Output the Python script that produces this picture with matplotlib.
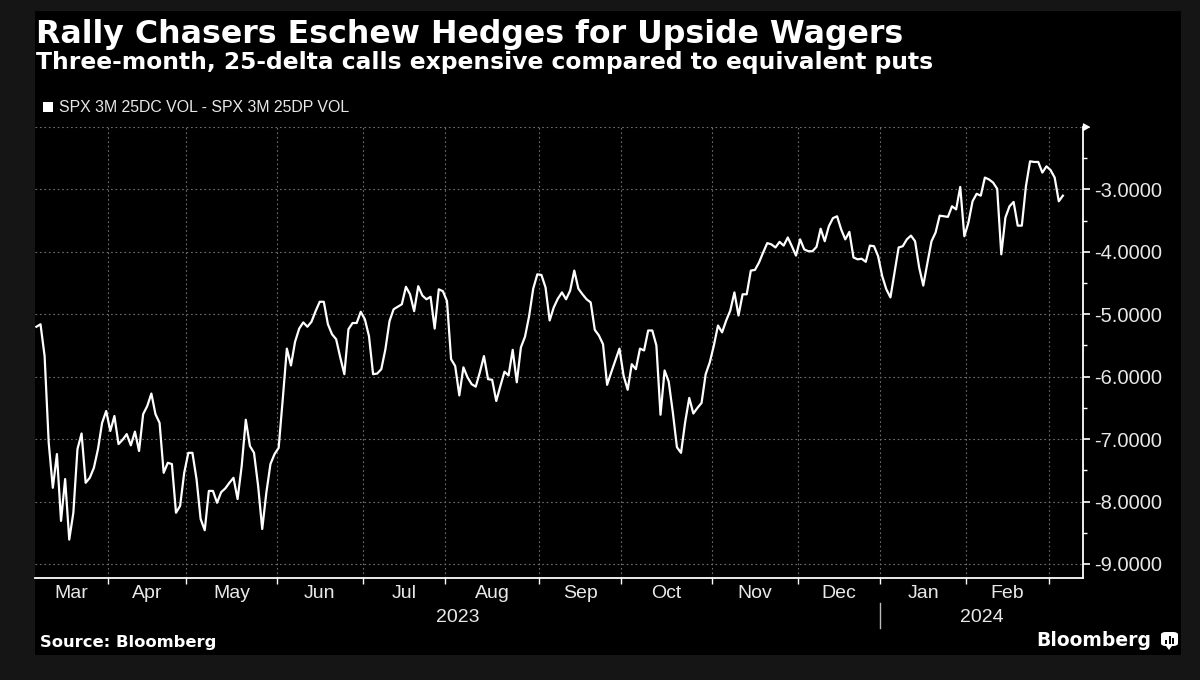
import matplotlib
matplotlib.use("Agg")
import matplotlib.pyplot as plt
from matplotlib.patches import Rectangle, FancyBboxPatch, Polygon
import matplotlib.transforms as mtransforms
import numpy as np
import pandas as pd

# ---------------- data ----------------
title = "Rally Chasers Eschew Hedges for Upside Wagers"
subtitle = "Three-month, 25-delta calls expensive compared to equivalent puts"
series_name = "SPX 3M 25DC VOL - SPX 3M 25DP VOL"
source = "Source: Bloomberg"

start_date = "2023-03-08"
market_holidays = ["2023-04-07", "2023-05-29", "2023-06-19", "2023-07-04",
                   "2023-09-04", "2023-11-23", "2023-12-25", "2024-01-01",
                   "2024-01-15", "2024-02-19"]

values = [
    -5.20, -5.16, -5.67, -7.06, -7.78, -7.24, -8.31, -7.64, -8.61, -8.18,
    -7.16, -6.91, -7.70, -7.62, -7.46, -7.16, -6.74, -6.55, -6.87, -6.63,
    -7.08, -7.01, -6.92, -7.10, -6.88, -7.19, -6.60, -6.47, -6.27, -6.60,
    -6.74, -7.54, -7.38, -7.40, -8.18, -8.07, -7.54, -7.22, -7.22, -7.64,
    -8.28, -8.46, -7.83, -7.83, -8.02, -7.85, -7.79, -7.70, -7.62, -7.96,
    -7.43, -6.69, -7.11, -7.22, -7.75, -8.44, -7.86, -7.40, -7.24, -7.14,
    -6.36, -5.55, -5.82, -5.44, -5.23, -5.13, -5.20, -5.12, -4.95, -4.80,
    -4.80, -5.16, -5.32, -5.40, -5.69, -5.96, -5.24, -5.14, -5.14, -4.96,
    -5.08, -5.35, -5.96, -5.95, -5.88, -5.56, -5.11, -4.92, -4.88, -4.84,
    -4.56, -4.68, -4.95, -4.55, -4.70, -4.76, -4.72, -5.23, -4.60, -4.63,
    -4.79, -5.72, -5.83, -6.30, -5.85, -6.01, -6.12, -6.16, -5.93, -5.67,
    -6.04, -6.05, -6.39, -6.15, -5.92, -5.98, -5.57, -6.09, -5.53, -5.36,
    -5.03, -4.59, -4.36, -4.37, -4.57, -5.10, -4.89, -4.75, -4.65, -4.76,
    -4.62, -4.30, -4.59, -4.68, -4.76, -4.81, -5.25, -5.34, -5.48, -6.13,
    -5.93, -5.74, -5.55, -5.98, -6.21, -5.80, -5.88, -5.55, -5.58, -5.26,
    -5.26, -5.50, -6.61, -5.90, -6.08, -6.57, -7.13, -7.22, -6.73, -6.34,
    -6.59, -6.50, -6.42, -5.96, -5.77, -5.50, -5.18, -5.29, -5.10, -4.94,
    -4.65, -5.02, -4.68, -4.68, -4.30, -4.29, -4.17, -4.01, -3.86, -3.88,
    -3.93, -3.84, -3.90, -3.77, -3.91, -4.06, -3.80, -3.96, -3.99, -3.99,
    -3.92, -3.63, -3.83, -3.59, -3.46, -3.43, -3.64, -3.80, -3.68, -4.09,
    -4.12, -4.11, -4.16, -3.90, -3.91, -4.07, -4.39, -4.60, -4.73, -4.33,
    -3.93, -3.91, -3.80, -3.74, -3.83, -4.25, -4.54, -4.18, -3.83, -3.69,
    -3.42, -3.43, -3.44, -3.27, -3.32, -2.96, -3.75, -3.53, -3.19, -3.07,
    -3.10, -2.81, -2.84, -2.89, -2.99, -4.04, -3.45, -3.27, -3.20, -3.58,
    -3.58, -2.95, -2.55, -2.56, -2.56, -2.73, -2.63, -2.69, -2.81, -3.19,
    -3.10,
]

y_ticks = [-9, -8, -7, -6, -5, -4, -3]
y_grid = [-9, -8, -7, -6, -5, -4, -3, -2]

# ---------------- styling ----------------
BG_OUT = "#151515"
BG = "#000000"
FG = "#ffffff"
TICK_TXT = "#e8e8e8"
GRID = "#6e6e6e"
AX_FONT = ["Liberation Sans", "DejaVu Sans"]
BOLD_FONT = ["DejaVu Sans"]

W, H = 1200, 680
fig = plt.figure(figsize=(W / 100, H / 100), dpi=100, facecolor=BG_OUT)

def fx(px):
    return px / W

def fy(py):
    return 1 - py / H

# black panel (drawn as a background axes so it stays underneath)
bg_ax = fig.add_axes([fx(35), fy(655), fx(1181) - fx(35), fy(10.7) - fy(655)], zorder=-10)
bg_ax.set_facecolor(BG)
bg_ax.set_xticks([])
bg_ax.set_yticks([])
for s in bg_ax.spines.values():
    s.set_visible(False)

# trading-day calendar
dates = pd.bdate_range(start_date, periods=len(values), freq="C", holidays=market_holidays)
idx = np.arange(len(values))

ax_left, ax_right, ax_top, ax_bot = 35, 1083, 127, 578
ax = fig.add_axes([fx(ax_left), fy(ax_bot), fx(ax_right) - fx(ax_left), fy(ax_top) - fy(ax_bot)],
                  zorder=1)
ax.set_facecolor("none")

ax.plot(idx, values, color=FG, lw=1.6, solid_joinstyle="round", zorder=3)

ax.set_xlim(-0.34, 254.9)
ax.set_ylim(-9.225, -2)

# month boundaries
months = dates.to_period("M")
bounds = [i - 0.5 for i in range(1, len(dates)) if months[i] != months[i - 1]]
bound_months = [dates[i] for i in range(1, len(dates)) if months[i] != months[i - 1]]

for b in bounds:
    ax.axvline(b, color=GRID, lw=0.8, ls=(0, (1.5, 2.5)), zorder=1)
for g in y_grid:
    ax.axhline(g, color=GRID, lw=0.8, ls=(0, (1.5, 2.5)), zorder=1)

# spines
for s in ["left", "top"]:
    ax.spines[s].set_visible(False)
for s in ["right", "bottom"]:
    ax.spines[s].set_color(FG)
    ax.spines[s].set_linewidth(1.3)

ax.yaxis.tick_right()
ax.set_yticks(y_ticks)
ax.set_yticklabels([f"{v:.4f}" for v in y_ticks])
ax.set_yticks([v + 0.5 for v in y_ticks], minor=True)
ax.tick_params(axis="y", which="major", direction="out", length=5, width=1.2, color=FG,
               labelcolor=TICK_TXT, labelsize=14.5, pad=3)
ax.tick_params(axis="y", which="minor", direction="out", length=3, width=1.0, color=FG)
for lab in ax.get_yticklabels():
    lab.set_family(AX_FONT)

ax.set_xticks(bounds)
ax.set_xticklabels([])
ax.tick_params(axis="x", which="major", direction="out", length=4, width=1.0, color=FG)

# arrow at top of right spine
ax.plot([1], [1], transform=ax.transAxes, marker=[(0, -1), (0, 1), (1.8, 0)],
        markersize=9, color=FG, clip_on=False, zorder=5)

# month labels
xl, xr = ax.get_xlim()
edges = [xl] + bounds
trans = mtransforms.blended_transform_factory(ax.transData, fig.transFigure)
for k in range(len(edges) - 1):
    m = dates[0] if k == 0 else bound_months[k - 1]
    cx = (edges[k] + edges[k + 1]) / 2
    ax.text(cx, fy(593), m.strftime("%b"), transform=trans, ha="center", va="center",
            color=TICK_TXT, fontsize=14, family=AX_FONT)

# year labels and separator
jan_b = [b for b, d in zip(bounds, bound_months) if d.month == 1][0]
ax.text((xl + jan_b) / 2, fy(617), "2023", transform=trans, ha="center", va="center",
        color=TICK_TXT, fontsize=14, family=AX_FONT)
ax.text((jan_b + xr) / 2, fy(617), "2024", transform=trans, ha="center", va="center",
        color=TICK_TXT, fontsize=14, family=AX_FONT)
ax.plot([jan_b, jan_b], [fy(603), fy(628)], transform=trans, color="#bbbbbb", lw=1.0,
        clip_on=False)

# titles
fig.text(fx(36), fy(43), title, color=FG, fontsize=22.8, fontweight="bold",
         family=BOLD_FONT, ha="left", va="baseline")
fig.text(fx(36), fy(69.5), subtitle, color=FG, fontsize=16.8, fontweight="bold",
         family=BOLD_FONT, ha="left", va="baseline")

# legend
fig.patches.append(Rectangle((fx(43), fy(112)), fx(53) - fx(43), fy(102) - fy(112),
                             transform=fig.transFigure, facecolor=FG, edgecolor="none"))
fig.text(fx(59), fy(107), series_name, color=TICK_TXT, fontsize=11.4, family=AX_FONT,
         ha="left", va="center")

# footer
fig.text(fx(40), fy(643), source, color=FG, fontsize=11.8, fontweight="bold",
         family=BOLD_FONT, ha="left", va="center")
fig.text(fx(1151), fy(640), "Bloomberg", color=FG, fontsize=13.5, fontweight="bold",
         family=BOLD_FONT, ha="right", va="center")

# logo icon
fig.patches.append(FancyBboxPatch((fx(1161), fy(646)), fx(1178) - fx(1161), fy(632) - fy(646),
                                  boxstyle="round,pad=0,rounding_size=0.004",
                                  transform=fig.transFigure, facecolor=FG, edgecolor="none"))
fig.patches.append(Polygon([(fx(1166), fy(646)), (fx(1172), fy(646)), (fx(1169), fy(650))],
                           closed=True, transform=fig.transFigure, facecolor=FG, edgecolor="none"))
for bx, btop in [(1165, 640), (1168.5, 636), (1172, 638)]:
    fig.patches.append(Rectangle((fx(bx), fy(643.5)), fx(2), fy(btop) - fy(643.5),
                                 transform=fig.transFigure, facecolor=BG, edgecolor="none"))

fig.savefig("out.png", dpi=100, facecolor=fig.get_facecolor())
